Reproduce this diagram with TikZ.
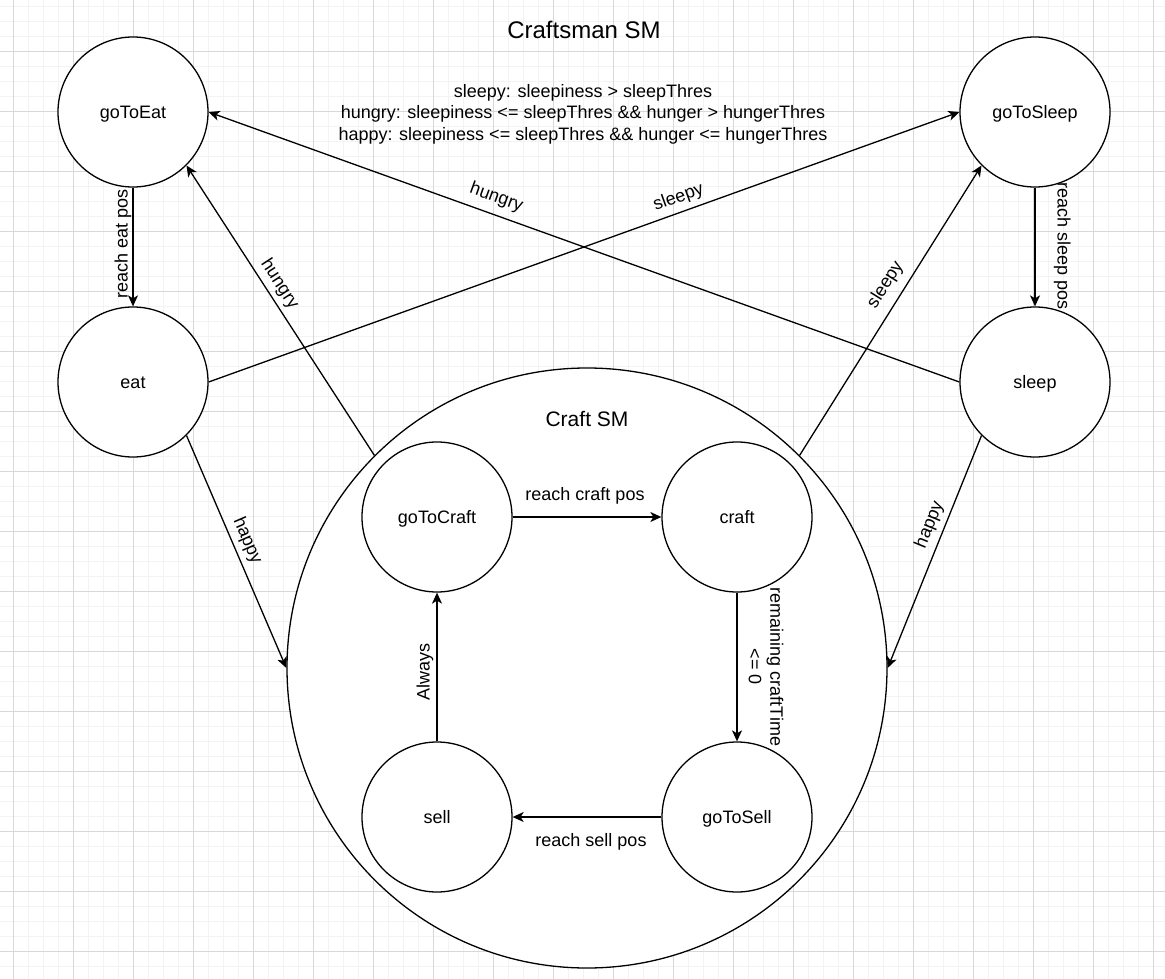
\documentclass[tikz,border=0pt]{standalone}
\usepackage{fontspec}
\setmainfont{Liberation Sans}
\usetikzlibrary{arrows.meta}
\definecolor{gridminor}{HTML}{F3F3F3}
\definecolor{gridmajor}{HTML}{D8D8D8}
\tikzset{
  state/.style={circle, draw=black, fill=white, line width=1.3pt, minimum size=150pt, inner sep=0pt, text height=13pt, text depth=0pt, font=\fontsize{18}{21.5}\selectfont},
  bigstate/.style={circle, draw=black, fill=white, line width=1.3pt, minimum size=600pt, inner sep=0pt},
  arr/.style={line width=1.3pt, -{Stealth[length=11pt, width=10pt, inset=3pt]}},
  lbl/.style={inner sep=0pt, font=\fontsize{18}{21.5}\selectfont, align=center},
  slbl/.style={lbl, text height=13pt, text depth=0pt},
}
\begin{document}
\begin{tikzpicture}[x=1pt, y=-1pt]
\useasboundingbox (0,0) rectangle (1165,979);
% grid
\begin{scope}
\clip (0,0) rectangle (1165,979);
\fill[white] (0,0) rectangle (1165,979);
\foreach \i in {0,...,78} {
  \draw[gridminor, line width=1.4pt] ({-1.67+15*\i},0) -- ({-1.67+15*\i},979);
}
\foreach \i in {0,...,66} {
  \draw[gridminor, line width=1.4pt] (0,{-8.33+15*\i}) -- (1165,{-8.33+15*\i});
}
\foreach \i in {0,...,19} {
  \draw[gridmajor, line width=0.9pt] ({13.33+60*\i},0) -- ({13.33+60*\i},979);
}
\foreach \i in {0,...,16} {
  \draw[gridmajor, line width=0.9pt] (0,{-8.33+60*\i}) -- (1165,{-8.33+60*\i});
}
\end{scope}

% title and legend
\node[lbl, font=\fontsize{24}{28}\selectfont] (title) at (584,30) {Craftsman SM};
\node[lbl] (legend) at (583,114) {sleepy: sleepiness > sleepThres\\hungry: sleepiness <= sleepThres \&\& hunger > hungerThres\\happy: sleepiness <= sleepThres \&\& hunger <= hungerThres};

% outer states
\node[state] (gotoeat) at (133,112) {goToEat};
\node[state] (eat) at (133,382) {eat};
\node[state] (gotosleep) at (1035,112) {goToSleep};
\node[state] (sleep) at (1035,382) {sleep};

% craft SM container
\node[bigstate] (craftsm) at (587,668) {};
\node[slbl, font=\fontsize{21}{25}\selectfont, text height=15pt] (craftsmlbl) at (587,419) {Craft SM};

% inner states
\node[state] (gotocraft) at (437,517) {goToCraft};
\node[state] (craft) at (737,517) {craft};
\node[state] (sell) at (437,817) {sell};
\node[state] (gotosell) at (737,817) {goToSell};

% outer edges
\draw[arr] (gotoeat) -- (eat);
\node[slbl, rotate=90] (l1) at (121,244) {reach eat pos};
\draw[arr] (gotosleep) -- (sleep);
\node[slbl, rotate=-90] (l2) at (1064,246) {reach sleep pos};
\draw[arr] (eat.east) -- (gotosleep.west);
\node[slbl, rotate=19.75] (l3) at (678,196) {sleepy};
\draw[arr] (sleep.west) -- (gotoeat.east);
\node[slbl, rotate=-19.75] (l4) at (497,196) {hungry};
\draw[arr] (craftsm.135) -- (gotoeat.-45);
\node[slbl, rotate=-57] (l5) at (281,283) {hungry};
\draw[arr] (craftsm.45) -- (gotosleep.-135);
\node[slbl, rotate=58] (l6) at (884,284) {sleepy};
\draw[arr] (eat.-45) -- (craftsm.west);
\node[slbl, rotate=-66.6] (l7) at (249,540) {happy};
\draw[arr] (sleep.-135) -- (craftsm.east);
\node[slbl, rotate=67.8] (l8) at (928,524) {happy};

% inner edges
\draw[arr] (gotocraft) -- (craft);
\node[slbl] (l9) at (585,494) {reach craft pos};
\draw[arr] (craft) -- (gotosell);
\node[lbl, rotate=-90] (l10) at (766,667) {remaining craftTime\\<= 0};
\draw[arr] (gotosell) -- (sell);
\node[slbl] (l11) at (591,840) {reach sell pos};
\draw[arr] (sell) -- (gotocraft);
\node[slbl, rotate=90] (l12) at (423,672) {Always};
\end{tikzpicture}
\end{document}
